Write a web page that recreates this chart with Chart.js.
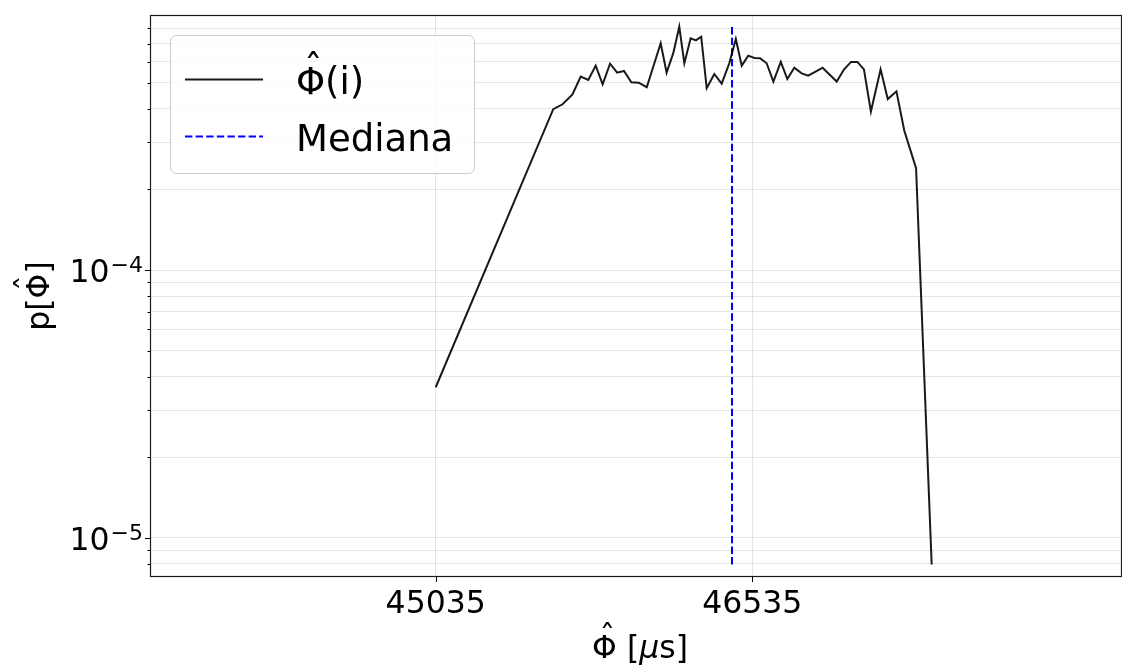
<!DOCTYPE html>
<html>
<head>
<meta charset="utf-8">
<script src="https://cdn.jsdelivr.net/npm/chart.js@4/dist/chart.umd.min.js"></script>
<style>
html,body{margin:0;padding:0;background:#fff;}
canvas{display:block;}
</style>
</head>
<body>
<canvas id="c" width="1122" height="666"></canvas>
<script>
// Bin centres of the estimated phase Φ̂ (µs)
const phiCentres = [45035, 45592, 45636, 45683, 45722, 45758, 45793, 45826, 45861, 45895,
  45927, 45962, 45997, 46035, 46101, 46129, 46161, 46189, 46213, 46243,
  46268, 46293, 46319, 46355, 46390, 46426, 46457, 46485, 46516, 46545,
  46572, 46603, 46635, 46670, 46701, 46734, 46769, 46800, 46835, 46868,
  46935, 46970, 47003, 47033, 47064, 47097, 47143, 47177, 47218, 47255,
  47311, 47385];
// Empirical density p[Φ̂] at each bin centre
const density = [3.65e-5, 3.99e-4, 4.16e-4, 4.53e-4, 5.28e-4, 5.13e-4, 5.80e-4, 4.94e-4, 5.90e-4, 5.46e-4,
  5.54e-4, 5.03e-4, 5.01e-4, 4.82e-4, 7.03e-4, 5.46e-4, 6.47e-4, 8.11e-4, 5.92e-4, 7.34e-4,
  7.21e-4, 7.44e-4, 4.78e-4, 5.40e-4, 4.97e-4, 5.92e-4, 7.30e-4, 5.80e-4, 6.32e-4, 6.20e-4,
  6.18e-4, 5.92e-4, 5.06e-4, 5.99e-4, 5.17e-4, 5.70e-4, 5.43e-4, 5.32e-4, 5.51e-4, 5.70e-4,
  5.06e-4, 5.62e-4, 5.99e-4, 5.99e-4, 5.62e-4, 3.91e-4, 5.62e-4, 4.35e-4, 4.65e-4, 3.32e-4,
  2.40e-4, 7.95e-6];
const medianPhi = 46439;

// Axis ticks and limits
const xTicks = [45035, 46535];
const yMajorTicks = [1e-5, 1e-4];
const yMinorTicks = [8e-6, 9e-6, 2e-5, 3e-5, 4e-5, 5e-5, 6e-5, 7e-5, 8e-5, 9e-5,
  2e-4, 3e-4, 4e-4, 5e-4, 6e-4, 7e-4, 8e-4];
const xLimits = [43686, 48282];
const yLimits = [7.2e-6, 8.89e-4];

const seriesLabel = 'Φ\u0302(i)';
const medianLabel = 'Mediana';

const FONT = '"DejaVu Sans", sans-serif';
const gridColor = 'rgba(176,176,176,0.32)';
const TICK_SIZE = 31.5;

function fontFor(seg, size) {
  return (seg.italic ? 'oblique ' : '') + size + 'px ' + FONT;
}

// Split a label into runs; a combining circumflex puts a hat on the previous letter
function toSegments(text) {
  const segs = [];
  const chars = Array.from(text);
  for (let i = 0; i < chars.length; i++) {
    if (chars[i + 1] === '\u0302') { segs.push({t: chars[i], hat: true}); i++; }
    else if (segs.length && !segs[segs.length - 1].hat && !segs[segs.length - 1].italic) segs[segs.length - 1].t += chars[i];
    else segs.push({t: chars[i]});
  }
  return segs;
}

function richWidth(ctx, segs, size) {
  let w = 0;
  for (const s of segs) { ctx.font = fontFor(s, size); w += ctx.measureText(s.t).width; }
  return w;
}

function drawRich(ctx, segs, x, baseline, size, color) {
  ctx.fillStyle = color;
  ctx.textAlign = 'left';
  ctx.textBaseline = 'alphabetic';
  let cx = x;
  for (const s of segs) {
    ctx.font = fontFor(s, size);
    const m = ctx.measureText(s.t);
    ctx.fillText(s.t, cx, baseline);
    if (s.hat) {
      const top = baseline - m.actualBoundingBoxAscent;
      ctx.font = size + 'px ' + FONT;
      const hm = ctx.measureText('ˆ');
      const hb = top - size * 0.22 - hm.actualBoundingBoxDescent;
      const centre = cx + m.width / 2 + size * 0.08;
      const hx = centre - (hm.actualBoundingBoxRight - hm.actualBoundingBoxLeft) / 2;
      ctx.fillText('ˆ', hx, hb);
    }
    cx += m.width;
  }
}

const frame = {
  id: 'frame',
  afterDraw(chart) {
    const ctx = chart.ctx;
    const a = chart.chartArea;
    const xs = chart.scales.x, ys = chart.scales.y;
    ctx.save();

    // axes box
    ctx.strokeStyle = '#1a1a1a';
    ctx.lineWidth = 1.2;
    ctx.strokeRect(a.left - 0.5, a.top - 0.5, a.right - a.left + 1, a.bottom - a.top + 1);

    // tick marks
    ctx.lineWidth = 1;
    ctx.strokeStyle = '#000';
    ctx.beginPath();
    for (const v of xTicks) {
      const px = Math.round(xs.getPixelForValue(v)) + 0.5;
      ctx.moveTo(px, a.bottom); ctx.lineTo(px, a.bottom + 6);
    }
    for (const v of yMajorTicks) {
      const py = Math.round(ys.getPixelForValue(v)) + 0.5;
      ctx.moveTo(a.left, py); ctx.lineTo(a.left - 6, py);
    }
    for (const v of yMinorTicks) {
      const py = Math.round(ys.getPixelForValue(v)) + 0.5;
      ctx.moveTo(a.left, py); ctx.lineTo(a.left - 3.5, py);
    }
    ctx.stroke();

    // x tick labels
    ctx.fillStyle = '#000';
    ctx.font = TICK_SIZE + 'px ' + FONT;
    ctx.textAlign = 'center';
    ctx.textBaseline = 'alphabetic';
    for (const v of xTicks) {
      ctx.fillText(String(v), xs.getPixelForValue(v), 613);
    }

    // y tick labels as powers of ten
    const supSize = TICK_SIZE * 0.7;
    for (const v of yMajorTicks) {
      const py = ys.getPixelForValue(v);
      const exp = Math.round(Math.log10(v));
      const supText = (exp < 0 ? '\u2212' : '') + Math.abs(exp);
      ctx.font = supSize + 'px ' + FONT;
      const ws = ctx.measureText(supText).width;
      ctx.font = TICK_SIZE + 'px ' + FONT;
      const wb = ctx.measureText('10').width;
      const right = a.left - 8;
      ctx.textAlign = 'left';
      ctx.fillText('10', right - ws - wb - 1, py + 12);
      ctx.font = supSize + 'px ' + FONT;
      ctx.fillText(supText, right - ws, py + 2);
    }

    // axis titles
    const xTitle = [{t: 'Φ', hat: true}, {t: ' ['}, {t: 'μ', italic: true}, {t: 's]'}];
    const wx = richWidth(ctx, xTitle, TICK_SIZE);
    drawRich(ctx, xTitle, (a.left + a.right) / 2 + 4 - wx / 2, 658, TICK_SIZE, '#000');

    const yTitle = [{t: 'p['}, {t: 'Φ', hat: true}, {t: ']'}];
    const wy = richWidth(ctx, yTitle, TICK_SIZE);
    ctx.save();
    ctx.translate(48.5, (a.top + a.bottom) / 2);
    ctx.rotate(-Math.PI / 2);
    drawRich(ctx, yTitle, -wy / 2, 0, TICK_SIZE, '#000');
    ctx.restore();

    // legend
    const bx = 170.5, by = 35.5, bw = 304, bh = 138, r = 6;
    ctx.beginPath();
    ctx.roundRect(bx, by, bw, bh, r);
    ctx.fillStyle = 'rgba(255,255,255,0.8)';
    ctx.fill();
    ctx.strokeStyle = '#cccccc';
    ctx.lineWidth = 1;
    ctx.stroke();

    const rows = [79.5, 136.5];
    chart.data.datasets.forEach((ds, i) => {
      const ly = rows[i];
      ctx.beginPath();
      ctx.strokeStyle = ds.borderColor;
      ctx.lineWidth = ds.borderWidth;
      ctx.setLineDash(ds.borderDash || []);
      ctx.moveTo(185, ly); ctx.lineTo(263, ly);
      ctx.stroke();
      ctx.setLineDash([]);
      drawRich(ctx, toSegments(ds.label), 296, ly + 14, 37, '#000');
    });

    ctx.restore();
  }
};

const chart = new Chart(document.getElementById('c'), {
  type: 'line',
  data: {
    datasets: [
      {
        label: seriesLabel,
        data: phiCentres.map((x, i) => ({x: x, y: density[i]})),
        borderColor: 'rgba(0,0,0,0.9)',
        borderWidth: 2,
        pointRadius: 0,
        tension: 0,
        fill: false
      },
      {
        label: medianLabel,
        data: [{x: medianPhi, y: Math.min(...density)}, {x: medianPhi, y: Math.max(...density)}],
        borderColor: '#0000ff',
        borderWidth: 2,
        borderDash: [7.4, 3.2],
        pointRadius: 0,
        fill: false
      }
    ]
  },
  options: {
    responsive: false,
    animation: false,
    devicePixelRatio: 1,
    layout: {padding: {left: 0, right: 1, top: 16, bottom: 0}},
    plugins: {legend: {display: false}, tooltip: {enabled: false}},
    scales: {
      x: {
        type: 'linear',
        min: xLimits[0],
        max: xLimits[1],
        afterBuildTicks: s => { s.ticks = xTicks.map(v => ({value: v})); },
        afterFit: s => { s.height = 90; },
        ticks: {display: false},
        grid: {color: gridColor, lineWidth: 1, drawTicks: false},
        border: {display: false}
      },
      y: {
        type: 'logarithmic',
        min: yLimits[0],
        max: yLimits[1],
        afterBuildTicks: s => {
          s.ticks = yMinorTicks.concat(yMajorTicks).sort((p, q) => p - q).map(v => ({value: v}));
        },
        afterFit: s => { s.width = 151; },
        ticks: {display: false},
        grid: {color: gridColor, lineWidth: 1, drawTicks: false},
        border: {display: false}
      }
    }
  },
  plugins: [frame]
});
</script>
</body>
</html>
